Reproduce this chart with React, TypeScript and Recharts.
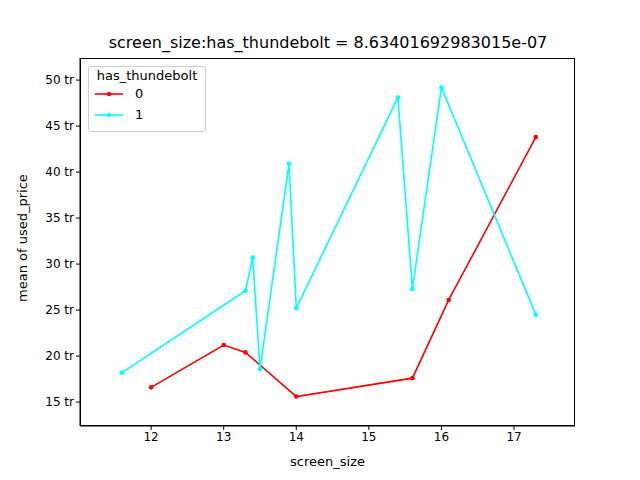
import React from 'react'
import { LineChart, Line, XAxis, YAxis } from 'recharts'

const red0 = [
  { x: 12, y: 16.6 }, { x: 13, y: 21.2 }, { x: 13.3, y: 20.4 }, { x: 14, y: 15.6 },
  { x: 15.6, y: 17.6 }, { x: 16.1, y: 26.1 }, { x: 17.3, y: 43.8 },
]
const cyan1 = [
  { x: 11.6, y: 18.2 }, { x: 13.3, y: 27.1 }, { x: 13.4, y: 30.7 }, { x: 13.5, y: 18.6 },
  { x: 13.9, y: 40.9 }, { x: 14, y: 25.2 }, { x: 15.4, y: 48.1 }, { x: 15.6, y: 27.3 },
  { x: 16, y: 49.2 }, { x: 17.3, y: 24.5 },
]
const xTicks = [12, 13, 14, 15, 16, 17]
const yTicks = [15, 20, 25, 30, 35, 40, 45, 50]

const font = 'DejaVu Sans, sans-serif'
const tickStyle = { fill: '#000', fontSize: 12, fontFamily: font }

export default function App() {
  return (
    <div style={{ position: 'absolute', left: 0, top: 0, width: 640, height: 480, background: '#fff', fontFamily: font }}>
      <div style={{ position: 'absolute', top: 33, width: 640, left: 8, textAlign: 'center', fontSize: 16 }}>
        screen_size:has_thundebolt = 8.63401692983015e-07
      </div>
      <LineChart width={640} height={480} margin={{ top: 58, right: 65, left: 0, bottom: 0 }}>
        <XAxis dataKey="x" type="number" domain={[11.02, 17.84]} ticks={xTicks} allowDuplicatedCategory={false}
          height={54} stroke="#000" tick={tickStyle} tickSize={4}
          label={{ value: 'screen_size', position: 'insideBottom', offset: 14, fill: '#000', fontSize: 13, fontFamily: font }} />
        <YAxis type="number" domain={[12.4, 52.4]} ticks={yTicks} width={80} stroke="#000" tick={tickStyle} tickSize={4}
          tickFormatter={(v) => `${v} tr`}
          label={{ value: 'mean of used_price', angle: -90, position: 'insideLeft', offset: 22, dy: 60, fill: '#000', fontSize: 13, fontFamily: font }} />
        <Line data={red0} dataKey="y" stroke="#ff0000" strokeWidth={1.6} isAnimationActive={false}
          dot={{ r: 2.3, fill: '#ff0000', strokeWidth: 0 }} />
        <Line data={cyan1} dataKey="y" stroke="#00ffff" strokeWidth={1.6} isAnimationActive={false}
          dot={{ r: 2.3, fill: '#00ffff', strokeWidth: 0 }} />
      </LineChart>
      <div style={{ position: 'absolute', left: 80, top: 58, width: 495, height: 368, border: '1px solid #000', boxSizing: 'border-box', pointerEvents: 'none' }} />
      <div style={{ position: 'absolute', left: 88, top: 66, width: 116, height: 64, border: '1px solid #ccc', borderRadius: 3, background: '#fff', fontSize: 13 }}>
        <div style={{ textAlign: 'center', marginTop: 1 }}>has_thundebolt</div>
        {[['0', '#ff0000'], ['1', '#00ffff']].map(([n, c]) => (
          <div key={n} style={{ display: 'flex', alignItems: 'center', height: 21, paddingLeft: 6 }}>
            <svg width={30} height={10}>
              <line x1={0} y1={5} x2={28} y2={5} stroke={c} strokeWidth={1.6} />
              <circle cx={14} cy={5} r={2.2} fill={c} />
            </svg>
            <span style={{ marginLeft: 10 }}>{n}</span>
          </div>
        ))}
      </div>
    </div>
  )
}
